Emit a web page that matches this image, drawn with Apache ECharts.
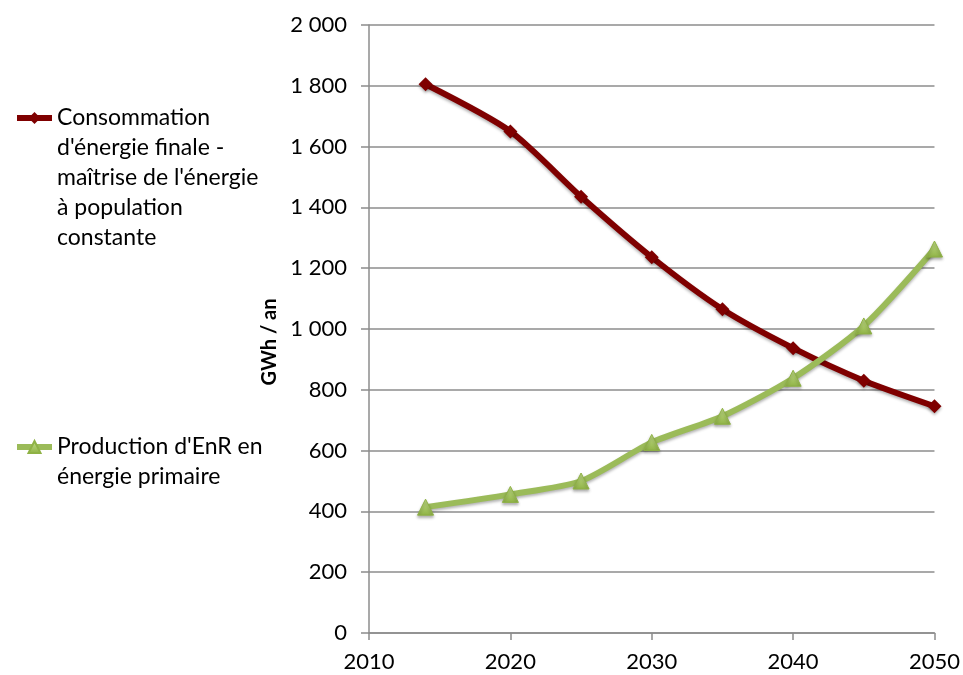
<!DOCTYPE html>
<html>
<head>
<meta charset="utf-8">
<script src="https://cdn.jsdelivr.net/npm/echarts@6/dist/echarts.min.js"></script>
<style>
html,body{margin:0;padding:0;background:#fff;}
#chart{width:963px;height:675px;}
</style>
</head>
<body>
<div id="chart"></div>
<script>
// Years and yearly energy figures (GWh / an)
const years = [2014, 2020, 2025, 2030, 2035, 2040, 2045, 2050];
const consommation = [1805, 1650, 1435, 1236, 1065, 937, 830, 746];
const production = [414, 456, 500, 627, 713, 838, 1010, 1263];
const seriesNames = [
  "Consommation\nd'énergie finale -\nmaîtrise de l'énergie\nà population\nconstante",
  "Production d'EnR en\nénergie primaire"
];
const yTicks = [0, 200, 400, 600, 800, 1000, 1200, 1400, 1600, 1800, 2000];

const FONT = 'Lato';
const LINE_H = 30;
const toPairs = vals => years.map((y, i) => [y, vals[i]]);
const fmtThousands = v => String(v).replace(/\B(?=(\d{3})+(?!\d))/g, ' ');
// Legend text is centred on its icon; blank lines above keep the icon level with the first line
const topAligned = name => {
  const n = name.split('\n').length;
  return '\n'.repeat(n - 1) + name;
};

const chart = echarts.init(document.getElementById('chart'));
const legendBase = {
  orient: 'vertical', left: 9, itemWidth: 35, itemHeight: 15, itemGap: 0,
  formatter: topAligned,
  lineStyle: {width: 6},
  textStyle: {fontFamily: FONT, fontSize: 23, color: '#000', lineHeight: LINE_H}
};

chart.setOption({
  animation: false,
  backgroundColor: '#fff',
  grid: {left: 369, right: 26, top: 25, bottom: 42},
  legend: [
    Object.assign({data: [seriesNames[0]], top: 113 - 4.5 * LINE_H}, legendBase),
    Object.assign({data: [seriesNames[1]], top: 442 - 1.5 * LINE_H}, legendBase)
  ],
  xAxis: {
    type: 'value', min: 2010, max: 2050, interval: 10,
    axisLine: {show: true, lineStyle: {color: '#8c8c8c', width: 1.5}},
    axisTick: {show: true, inside: false, length: 7, lineStyle: {color: '#8c8c8c', width: 1.5}},
    splitLine: {show: false},
    axisLabel: {fontFamily: FONT, fontSize: 22, color: '#000', margin: 18, formatter: v => String(v)}
  },
  yAxis: {
    type: 'value', min: yTicks[0], max: yTicks[yTicks.length - 1], interval: 200,
    name: 'GWh / an', nameLocation: 'middle', nameGap: 86, nameRotate: 90,
    nameTextStyle: {fontFamily: FONT, fontSize: 20, fontWeight: 'bold', color: '#000', padding: [0, 26, 0, 0]},
    axisLine: {show: true, lineStyle: {color: '#8c8c8c', width: 1.5}},
    axisTick: {show: true, inside: false, length: 8, lineStyle: {color: '#8c8c8c', width: 1.5}},
    splitLine: {show: true, lineStyle: {color: '#8c8c8c', width: 1.5}},
    axisLabel: {fontFamily: FONT, fontSize: 22, color: '#000', margin: 22, formatter: fmtThousands}
  },
  series: [
    {
      name: seriesNames[0], type: 'line', smooth: 0.25,
      data: toPairs(consommation),
      symbol: 'diamond', symbolSize: 14,
      lineStyle: {color: '#7f0000', width: 6, shadowColor: 'rgba(0,0,0,0.3)', shadowBlur: 3, shadowOffsetY: 2},
      itemStyle: {color: '#7f0000', shadowColor: 'rgba(0,0,0,0.3)', shadowBlur: 3, shadowOffsetY: 2}
    },
    {
      name: seriesNames[1], type: 'line', smooth: 0.25,
      data: toPairs(production),
      symbol: 'triangle', symbolSize: 16,
      lineStyle: {color: '#9bbb59', width: 6, shadowColor: 'rgba(0,0,0,0.3)', shadowBlur: 3, shadowOffsetY: 2},
      itemStyle: {
        color: new echarts.graphic.LinearGradient(0, 0, 0, 1, [
          {offset: 0, color: '#c4e08a'}, {offset: 1, color: '#8fb245'}
        ]),
        borderColor: '#8fb245', borderWidth: 1,
        shadowColor: 'rgba(0,0,0,0.3)', shadowBlur: 3, shadowOffsetY: 2
      }
    }
  ]
});
</script>
</body>
</html>
